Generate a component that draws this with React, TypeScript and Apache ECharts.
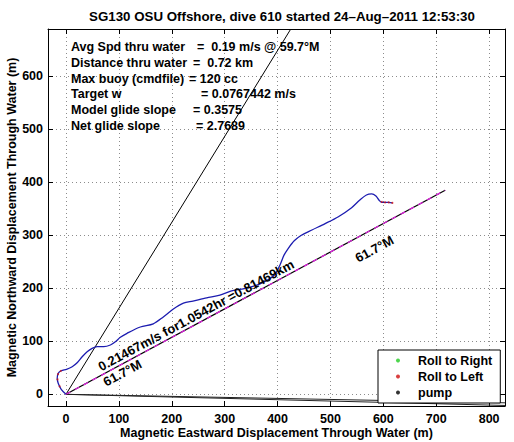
import React, { useEffect, useRef } from 'react';
import * as echarts from 'echarts';

const FONT = '"Liberation Sans", Arial, Helvetica, sans-serif';

const TITLE = 'SG130 OSU Offshore, dive 610 started 24–Aug–2011 12:53:30';
const X_NAME = 'Magnetic Eastward Displacement Through Water (m)';
const Y_NAME = 'Magnetic Northward Displacement Through Water (m)';
const X_RANGE = [-34, 830];
const Y_RANGE = [-22, 689];

const statLabels = [
  'Avg Spd thru water',
  'Distance thru water',
  'Max buoy (cmdfile)',
  'Target w',
  'Model glide slope',
  'Net glide slope',
];
const statValues = [
  '=  0.19 m/s @ 59.7°M',
  '=  0.72 km',
  '= 120 cc',
  '= 0.0767442 m/s',
  '= 0.3575',
  '= 2.7689',
];

// glider track (magnetic east, north) in metres
const trackEast = [0, -9, -14.7, -16.6, -14.7, -9, 1, 11.7, 21.1, 30.6, 40, 49.4, 58.9, 71.3, 84, 93.4, 102.8, 115.5, 140.6, 165, 184, 203, 222, 240, 266, 291, 310, 323, 335, 355, 375, 395, 405, 412, 420, 432, 445, 465, 490, 515, 540, 555, 568, 578, 586, 592, 597, 603, 610, 617];
const trackNorth = [0, 9.4, 20.8, 30.2, 39.6, 44.5, 47.2, 52.1, 59.6, 70.9, 80.4, 86.8, 89.8, 89.8, 93, 99.2, 107.5, 115.1, 127, 133, 146, 161, 172, 176, 182, 187, 194, 197, 199, 204, 212, 226, 245, 262, 275, 290, 300, 310, 322, 335, 352, 366, 376, 378, 374, 366, 362, 362, 362, 361];

const rollLeftEast = [-12, -16, -15, -10, 597, 603, 610, 617];
const rollLeftNorth = [15, 28, 38, 44, 363, 362, 362, 361];
const rollRightEast: number[] = [];
const rollRightNorth: number[] = [];
const pumpEast: number[] = [];
const pumpNorth: number[] = [];

// straight reference lines (end points)
const headingLineEnd = [425, 689];
const driftAEnd = [830, -16];
const driftBEnd = [830, -21];
const netLineEnd = [717, 385];

const netLabel = '0.21467m/s for1.0542hr =0.81469km';
const headingLabel = '61.7°M';
const netLabelAt = [246, 149];
const headingLabelStartAt = [106.6, 40.2];
const headingLabelEndAt = [583, 274];

const zip = (a: number[], b: number[]) => a.map((v, i) => [v, b[i]]);

export default function App() {
  const ref = useRef<HTMLDivElement>(null);
  useEffect(() => {
    if (!ref.current) return;
    const chart = echarts.init(ref.current, null, { renderer: 'svg' });
    const lbl = { color: '#000', fontWeight: 'bold', fontSize: 12.5, fontFamily: FONT };
    const split = { show: true, lineStyle: { type: [1, 3], color: '#8c8c8c', width: 1 } };
    const tick = { show: true, inside: true, length: 5, lineStyle: { color: '#000' } };
    const line = { show: true, onZero: false, lineStyle: { color: '#000', width: 1 } };
    const option: any = {
      animation: false,
      backgroundColor: '#fff',
      textStyle: { fontFamily: FONT },
      title: {
        text: TITLE,
        left: 277,
        top: 5,
        textAlign: 'center',
        textStyle: { ...lbl, fontSize: 13.3 },
      },
      grid: { left: 48, top: 29, right: 9, bottom: 36, containLabel: false, outerBoundsMode: 'none' },
      legend: {
        orient: 'vertical',
        left: 378,
        top: 350,
        icon: 'circle',
        itemWidth: 4,
        itemHeight: 4,
        itemGap: 3,
        padding: [4, 8, 4, 18],
        backgroundColor: '#fff',
        borderColor: '#000',
        borderWidth: 1,
        borderRadius: 0,
        textStyle: { ...lbl, padding: [0, 0, 0, 13] },
        data: ['Roll to Right', 'Roll to Left', 'pump'],
      },
      xAxis: [
        {
          type: 'value', min: X_RANGE[0], max: X_RANGE[1], splitNumber: 8, position: 'bottom',
          name: X_NAME, nameLocation: 'middle', nameGap: 20, nameMoveOverlap: false, nameTextStyle: { ...lbl },
          axisLine: line, axisTick: tick,
          axisLabel: { ...lbl, margin: 6, showMinLabel: false, showMaxLabel: false },
          splitLine: split,
        },
        {
          type: 'value', min: X_RANGE[0], max: X_RANGE[1], splitNumber: 8, position: 'top',
          axisLine: line, axisTick: tick, axisLabel: { show: false }, splitLine: { show: false },
        },
      ],
      yAxis: [
        {
          type: 'value', min: Y_RANGE[0], max: Y_RANGE[1], splitNumber: 7, position: 'left',
          name: Y_NAME, nameLocation: 'middle', nameGap: 30, nameMoveOverlap: false, nameTextStyle: { ...lbl },
          axisLine: line, axisTick: tick,
          axisLabel: { ...lbl, margin: 5, showMinLabel: false, showMaxLabel: false },
          splitLine: split,
        },
        {
          type: 'value', min: Y_RANGE[0], max: Y_RANGE[1], splitNumber: 7, position: 'right',
          axisLine: line, axisTick: tick, axisLabel: { show: false }, splitLine: { show: false },
        },
      ],
      series: [
        {
          type: 'line', name: 'drift A', data: [[0, 0], driftAEnd], showSymbol: false, clip: true,
          lineStyle: { color: '#222', width: 1 }, z: 2,
        },
        {
          type: 'line', name: 'drift B', data: [[0, 0], driftBEnd], showSymbol: false, clip: true,
          lineStyle: { color: '#222', width: 1 }, z: 2,
        },
        {
          type: 'line', name: 'heading', data: [[0, 0], headingLineEnd], showSymbol: false, clip: true,
          lineStyle: { color: '#000', width: 1 }, z: 2,
        },
        {
          type: 'line', name: 'net', data: [[0, 0], netLineEnd], showSymbol: false, clip: true,
          lineStyle: { color: '#000', width: 1.2 }, z: 2,
        },
        {
          type: 'line', name: 'net magenta', data: [[0, 0], netLineEnd], showSymbol: false, clip: true,
          lineStyle: { color: '#e01ee0', width: 1.2, type: [5, 5] }, z: 3,
        },
        {
          type: 'line', name: 'track', data: zip(trackEast, trackNorth), showSymbol: false, clip: true,
          smooth: 0.3,
          lineStyle: { color: '#1c1cb0', width: 1.3 }, z: 4,
        },
        {
          type: 'scatter', name: 'Roll to Right', data: zip(rollRightEast, rollRightNorth),
          symbolSize: 2, itemStyle: { color: '#22cc22' }, z: 5,
        },
        {
          type: 'scatter', name: 'Roll to Left', data: zip(rollLeftEast, rollLeftNorth),
          symbolSize: 2, itemStyle: { color: '#d01010' }, z: 5,
        },
        {
          type: 'scatter', name: 'pump', data: zip(pumpEast, pumpNorth),
          symbolSize: 2, itemStyle: { color: '#000' }, z: 5,
        },
      ],
    };
    chart.setOption(option);

    const px = (p: number[]) => chart.convertToPixel({ gridIndex: 0 } as any, p) as number[];
    const a = px([0, 0]);
    const b = px(netLineEnd);
    const ang = Math.atan2(a[1] - b[1], b[0] - a[0]);
    const graphics: any[] = [];
    const labelX = 71;
    const valueX = [197, 193, 189, 201, 193, 196];
    statLabels.forEach((t, i) => {
      const y = 47 + i * 15.8;
      graphics.push({
        type: 'text', x: labelX, y, z: 10,
        style: { text: t, fill: '#000', font: `bold 12.5px ${FONT}`, align: 'left', verticalAlign: 'middle' },
      });
      graphics.push({
        type: 'text', x: valueX[i], y, z: 10,
        style: { text: statValues[i], fill: '#000', font: `bold 12.5px ${FONT}`, align: 'left', verticalAlign: 'middle' },
      });
    });
    const rotText = (text: string, at: number[]) => {
      const p = px(at);
      graphics.push({
        type: 'text', x: p[0], y: p[1], rotation: ang, z: 10,
        style: { text, fill: '#000', font: `bold 13px ${FONT}`, align: 'center', verticalAlign: 'middle' },
      });
    };
    rotText(netLabel, netLabelAt);
    rotText(headingLabel, headingLabelStartAt);
    rotText(headingLabel, headingLabelEndAt);
    chart.setOption({ graphic: graphics });

    return () => chart.dispose();
  }, []);
  return (
    <div
      ref={ref}
      style={{ position: 'absolute', left: 0, top: 0, width: 514, height: 442 }}
    />
  );
}
